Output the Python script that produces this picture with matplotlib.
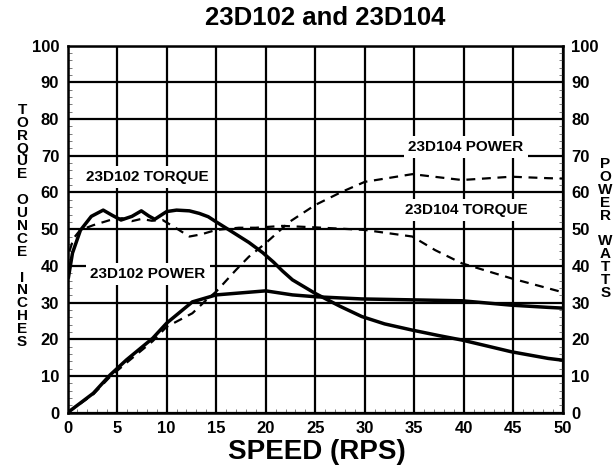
import matplotlib
matplotlib.use("Agg")
import matplotlib.pyplot as plt
from matplotlib.ticker import MultipleLocator

plt.rcParams['font.family'] = ['Liberation Sans', 'DejaVu Sans']
plt.rcParams['font.weight'] = 'bold'

# 23D102 torque (solid)
t102_x = [0.1, 0.5, 1.3, 2.4, 3.6, 4.5, 5.4, 6.5, 7.45, 8.2, 8.8, 10, 11, 12.3, 13.3, 14.2, 15, 16.6, 18.3, 19.7, 20.8, 21.7, 22.7, 25, 27.5, 29.7, 32, 34.8, 37.5, 39.8, 42, 44.8, 48.5, 50]
t102_y = [37, 43.5, 49.7, 53.5, 55.2, 53.8, 52.5, 53.5, 55, 53.6, 52.7, 54.8, 55.2, 55, 54.3, 53.4, 52, 49.3, 46.4, 43.6, 41, 38.6, 36.2, 32.5, 29, 26.2, 24.2, 22.5, 21, 19.8, 18.4, 16.6, 14.8, 14.3]

# 23D102 power (solid)
p102_x = [0, 2.6, 4.3, 5.95, 8.6, 10, 12.6, 15, 20, 22.7, 25, 29.7, 39.8, 44.8, 48.5, 50]
p102_y = [0, 5.3, 10.3, 14.4, 20.3, 24.4, 30.2, 32.1, 33.2, 32.1, 31.6, 31.0, 30.5, 29.3, 28.7, 28.5]

# 23D104 torque (dashed)
t104_x = [0.2, 0.6, 1.26, 2.6, 4.3, 5.5, 6.5, 7.45, 8.5, 9.6, 11, 12.3, 13.5, 15, 17.3, 19, 21.7, 25, 30, 34.8, 37.1, 39.8, 44.8, 48.5, 50]
t104_y = [44, 47.5, 49.7, 51.1, 52.5, 53, 52.2, 52.8, 52.3, 52.5, 50.2, 48, 48.6, 49.8, 50.4, 50.4, 50.9, 50.5, 49.8, 48, 44.3, 40.7, 36.6, 33.9, 32.8]

# 23D104 power (dashed)
p104_x = [0, 2.6, 4.3, 5.95, 8.6, 10, 12.6, 14, 15, 17, 18.3, 20, 22.4, 25, 27.7, 30, 34.8, 39.8, 44.8, 48.5, 50]
p104_y = [0, 5.0, 9.8, 13.6, 19.5, 23.4, 27.1, 30.7, 33, 38.9, 42.5, 46.2, 52, 56.6, 60.2, 62.9, 65, 63.4, 64.3, 63.9, 63.8]

fig = plt.figure(figsize=(6.15, 4.69), dpi=100)
ax = fig.add_axes([0.1098, 0.12, 0.8056, 0.7826])

ax.set_xlim(0, 50)
ax.set_ylim(0, 100)
ax.xaxis.set_major_locator(MultipleLocator(5))
ax.xaxis.set_minor_locator(MultipleLocator(1))
ax.yaxis.set_major_locator(MultipleLocator(10))
ax.yaxis.set_minor_locator(MultipleLocator(2))
ax.grid(True, which='major', color='black', linewidth=1.6)
ax.set_axisbelow(True)
for s in ax.spines.values():
    s.set_linewidth(1.8)

ax.tick_params(which='major', length=0, labelsize=12, pad=6)
ax.tick_params(which='minor', direction='in', length=3, width=0.6, color='#666666', right=True)
ax.tick_params(axis='y', which='major', labelright=True, right=False)
for lab in ax.get_xticklabels() + ax.get_yticklabels():
    lab.set_fontweight('bold')

ax.plot(t102_x, t102_y, color='black', lw=2.5, zorder=3)
ax.plot(p102_x, p102_y, color='black', lw=2.5, zorder=3)
ax.plot(t104_x, t104_y, color='black', lw=1.6, dashes=(4, 3), zorder=3)
ax.plot(p104_x, p104_y, color='black', lw=1.6, dashes=(4, 3), zorder=3)

box = dict(facecolor='white', edgecolor='none', pad=3)
ax.text(8.1, 64.2, '23D102 TORQUE', ha='center', va='center', fontsize=11, fontweight='bold', bbox=box, zorder=4)
ax.text(8.1, 37.8, '23D102 POWER', ha='center', va='center', fontsize=11, fontweight='bold', bbox=box, zorder=4)
ax.text(40.2, 72.3, '23D104 POWER', ha='center', va='center', fontsize=11, fontweight='bold', bbox=box, zorder=4)
ax.text(40.2, 55.2, '23D104 TORQUE', ha='center', va='center', fontsize=11, fontweight='bold', bbox=box, zorder=4)

fig.text(325 / 615, 1 - 18 / 469, '23D102 and 23D104', ha='center', va='center', fontsize=18.5, fontweight='bold')
fig.text(317 / 615, 1 - 452 / 469, 'SPEED (RPS)', ha='center', va='center', fontsize=20, fontweight='bold')

left_lbl = '\n'.join('TORQUE') + '\n\n' + '\n'.join('OUNCE') + '\n\n' + '\n'.join('INCHES')
right_lbl = '\n'.join('POWER') + '\n\n' + '\n'.join('WATTS')
fig.text(22 / 615, 1 - 226 / 469, left_lbl, ha='center', va='center', fontsize=11, fontweight='bold', linespacing=0.9)
fig.text(605.5 / 615, 1 - 228.5 / 469, right_lbl, ha='center', va='center', fontsize=11, fontweight='bold', linespacing=0.9)

fig.savefig('out.png', dpi=100)
